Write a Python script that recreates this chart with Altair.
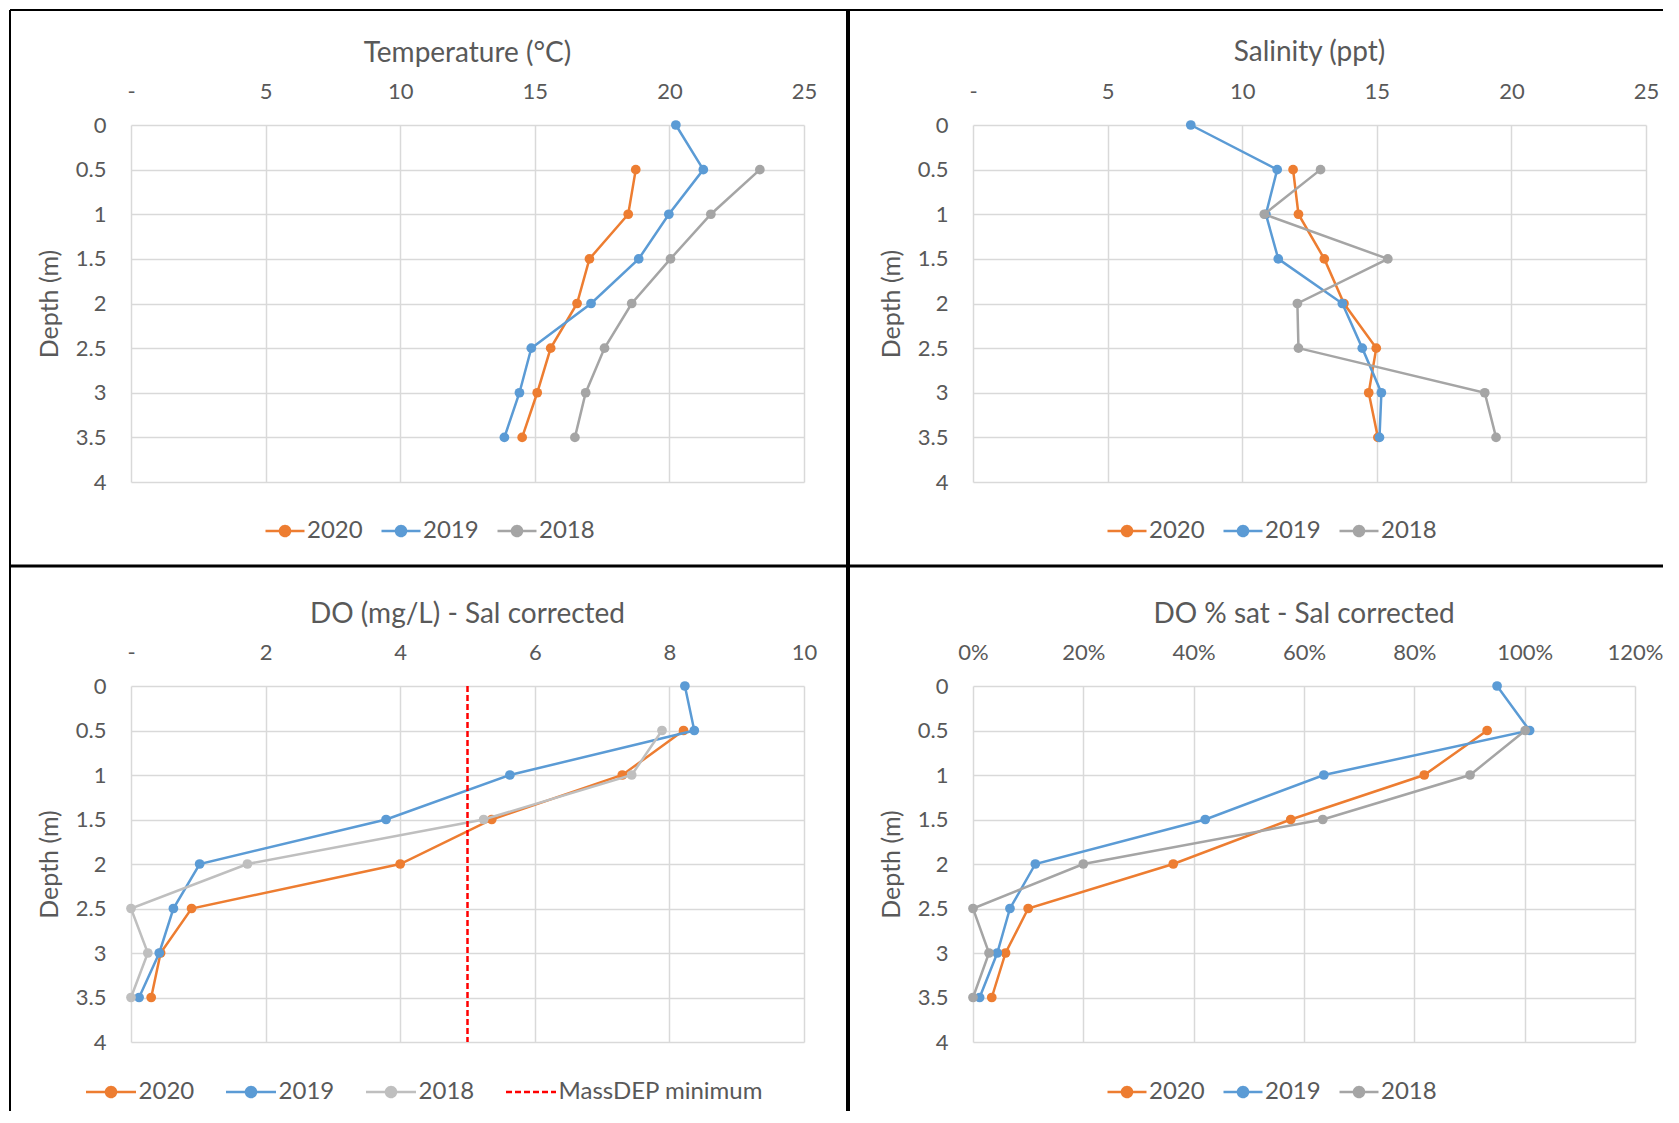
import altair as alt
import pandas as pd

# ---------------- data ----------------
DEPTHS = [0, 0.5, 1, 1.5, 2, 2.5, 3, 3.5]
DEPTH_TICKS = [0, 0.5, 1, 1.5, 2, 2.5, 3, 3.5, 4]
YEARS = ["2020", "2019", "2018"]

TEMP_2020 = [None, 18.75, 18.47, 17.03, 16.57, 15.59, 15.09, 14.53]
TEMP_2019 = [20.24, 21.26, 19.98, 18.86, 17.09, 14.87, 14.43, 13.87]
TEMP_2018 = [None, 23.36, 21.54, 20.04, 18.60, 17.59, 16.89, 16.49]

SAL_2020 = [None, 11.89, 12.09, 13.05, 13.78, 14.98, 14.70, 15.04]
SAL_2019 = [8.09, 11.30, 10.88, 11.34, 13.72, 14.46, 15.17, 15.10]
SAL_2018 = [None, 12.91, 10.82, 15.41, 12.05, 12.09, 19.01, 19.43]

DO_2020 = [None, 8.21, 7.30, 5.36, 4.00, 0.90, 0.44, 0.30]
DO_2019 = [8.23, 8.37, 5.63, 3.79, 1.02, 0.63, 0.42, 0.12]
DO_2018 = [None, 7.89, 7.44, 5.24, 1.73, 0.00, 0.25, 0.00]
MASSDEP_MIN = [5.0]
MASSDEP_LABEL = "MassDEP minimum"

PCT_2020 = [None, 0.932, 0.818, 0.576, 0.363, 0.100, 0.059, 0.034]
PCT_2019 = [0.950, 1.009, 0.636, 0.421, 0.113, 0.067, 0.044, 0.012]
PCT_2018 = [None, 1.001, 0.901, 0.634, 0.200, 0.000, 0.029, 0.000]

TEMP_TICKS = [0, 5, 10, 15, 20, 25]
SAL_TICKS = [0, 5, 10, 15, 20, 25]
DO_TICKS = [0, 2, 4, 6, 8, 10]
PCT_TICKS = [0, 0.2, 0.4, 0.6, 0.8, 1.0, 1.2]

TITLES = ["Temperature (°C)", "Salinity (ppt)", "DO (mg/L) - Sal corrected", "DO % sat - Sal corrected"]

# ---------------- styles ----------------
ORANGE, BLUE, GRAY, LGRAY, RED = "#ED7D31", "#5B9BD5", "#A5A5A5", "#BFBFBF", "#FF0000"
TEXT, GRID = "#595959", "#D9D9D9"
FONT = "Lato"
ONE = pd.DataFrame({"k": [0]})


def make_df(a, b, c):
    rows = []
    for yr, vals in zip(YEARS, [a, b, c]):
        for d, v in zip(DEPTHS, vals):
            if v is not None:
                rows.append({"depth": d, "value": v, "series": yr})
    return pd.DataFrame(rows)


def hrule(y, x1, x2, w):
    return alt.Chart(ONE).mark_rule(color="black", strokeWidth=w).encode(
        y=alt.value(y), x=alt.value(x1), x2=alt.value(x2))


def vrule(x, y1, y2, w):
    return alt.Chart(ONE).mark_rule(color="black", strokeWidth=w).encode(
        x=alt.value(x), y=alt.value(y1), y2=alt.value(y2))


def panel(title, df, xdom, xticks, xfmt, dash_zero, colors, w, h, borders, title_dy,
          legend_x, half, label_offset, col_pad, rule_vals=None):
    domain = list(YEARS)
    rng = list(colors)
    if rule_vals is not None:
        domain.append(MASSDEP_LABEL)
        rng.append(RED)
    color_expr = " : ".join(f"datum.value === '{k}' ? '{v}'" for k, v in zip(domain, rng)) + " : '#000000'"
    circle = "M0.5,0A0.5,0.5,0,1,1,-0.5,0A0.5,0.5,0,1,1,0.5,0"
    sym_path = f"M-{half},0L{half},0" + circle
    shape_expr = f"datum.value === '{MASSDEP_LABEL}' ? 'M-{half},0L{half},0' : '{sym_path}'"
    dash_expr = f"datum.value === '{MASSDEP_LABEL}' ? [6,3] : [1,0]"

    legend = alt.Legend(
        title=None, orient="none", direction="horizontal",
        legendX=legend_x, legendY=394,
        symbolType={"expr": shape_expr}, symbolSize=400, symbolStrokeWidth=2.5,
        symbolFillColor={"expr": color_expr}, symbolStrokeColor={"expr": color_expr},
        symbolDash={"expr": dash_expr}, symbolOpacity=1,
        labelFont=FONT, labelFontSize=24, labelColor=TEXT, labelOffset=label_offset,
        columnPadding=col_pad, labelLimit=500,
    )
    cscale = alt.Scale(domain=domain, range=rng)
    C = alt.Color("series:N", scale=cscale, legend=legend)

    label_expr = "datum.value === 0 ? '-' : datum.label" if dash_zero else "datum.label"
    X = alt.X("value:Q", title=None,
              scale=alt.Scale(domain=xdom, nice=False, zero=False),
              axis=alt.Axis(orient="top", values=xticks, format=xfmt, labelExpr=label_expr,
                            grid=True, gridColor=GRID, gridWidth=1.5, domain=False, ticks=False,
                            tickSize=0, labelPadding=22, labelFlush=False, labelOverlap=False,
                            labelFont=FONT, labelFontSize=22, labelColor=TEXT))
    Y = alt.Y("depth:Q",
              scale=alt.Scale(domain=[0, 4], reverse=True, nice=False, zero=False),
              axis=alt.Axis(values=DEPTH_TICKS, format="~g", title="Depth (m)",
                            grid=True, gridColor=GRID, gridWidth=1.5, domain=False, ticks=False,
                            tickSize=0, labelPadding=25, labelFlush=False, labelOverlap=False,
                            labelFont=FONT, labelFontSize=22, labelColor=TEXT,
                            titleFont=FONT, titleFontSize=25, titleColor=TEXT,
                            titleFontWeight="normal", titleX=-82, titleY=h / 2,
                            titleAngle=270, titleAlign="center", titleBaseline="middle"))

    base = alt.Chart(df)
    layers = list(borders)
    for yr in YEARS:
        sub = base.transform_filter(alt.datum.series == yr)
        layers.append(sub.mark_line(strokeWidth=2.5).encode(x=X, y=Y, color=C, order="depth:Q"))
        layers.append(sub.mark_circle(size=95, opacity=1).encode(x=X, y=Y, color=C))
    if rule_vals is not None:
        rdf = pd.DataFrame({"value": rule_vals, "series": [MASSDEP_LABEL] * len(rule_vals)})
        layers.append(alt.Chart(rdf).mark_rule(strokeDash=[6, 3], strokeWidth=2.5)
                      .encode(x=X, color=C))
    return alt.layer(*layers).properties(
        width=w, height=h,
        title=alt.TitleParams(TITLES[title], frame="group", anchor="middle", offset=0, dy=title_dy,
                              baseline="bottom", font=FONT, fontSize=28, fontWeight="normal", color=TEXT),
    )


W, H = 673, 357
tl = panel(0, make_df(TEMP_2020, TEMP_2019, TEMP_2018), [0, 25], TEMP_TICKS, "d", True,
           [ORANGE, BLUE, GRAY], W, H,
           [hrule(-115, -121, 717, 2), vrule(-121, -115, 441, 2), vrule(717, -115, 441, 4)],
           88, 142, 1.95, 10, 13)
tr = panel(1, make_df(SAL_2020, SAL_2019, SAL_2018), [0, 25], SAL_TICKS, "d", True,
           [ORANGE, BLUE, GRAY], W, H,
           [hrule(-115, -125, 690, 2)],
           86, 142, 1.95, 10, 13)
bl = panel(2, make_df(DO_2020, DO_2019, DO_2018), [0, 10], DO_TICKS, "d", True,
           [ORANGE, BLUE, LGRAY], W, 356,
           [hrule(-120, -121, 717, 3), vrule(-121, -120, 425, 2), vrule(717, -120, 425, 4)],
           93, -32, 2.5, 15.6, 26, rule_vals=MASSDEP_MIN)
br = panel(3, make_df(PCT_2020, PCT_2019, PCT_2018), [0, 1.2], PCT_TICKS, ".0%", False,
           [ORANGE, BLUE, GRAY], 662, 356,
           [hrule(-120, -125, 690, 3)],
           92, 142, 1.95, 10, 13)

top = alt.hconcat(tl, tr, spacing=169, bounds="flush").resolve_scale(color="independent").resolve_legend(color="independent")
bottom = alt.hconcat(bl, br, spacing=169, bounds="flush").resolve_scale(color="independent").resolve_legend(color="independent")
chart = (alt.vconcat(top, bottom, spacing=561, bounds="flush")
         .resolve_scale(color="independent").resolve_legend(color="independent")
         .properties(padding=0)
         .configure(font=FONT)
         .configure_view(stroke=None))

chart.save("out.html", embed_options={"renderer": "svg", "actions": False})
